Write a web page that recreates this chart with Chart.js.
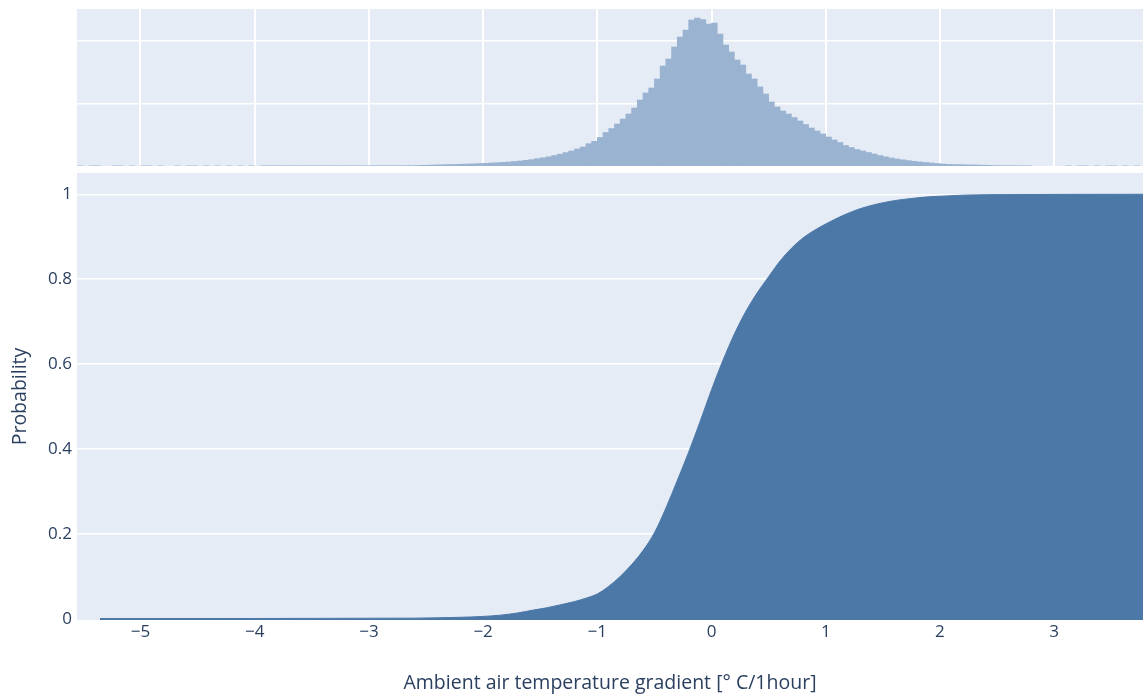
<!DOCTYPE html>
<html>
<head>
<meta charset="utf-8">
<script src="https://cdn.jsdelivr.net/npm/chart.js@4.4.0/dist/chart.umd.min.js"></script>
<style>
  html, body { margin: 0; padding: 0; background: #fff; }
  #wrap { position: relative; width: 1143px; height: 695px; }
  #histCanvas { position: absolute; left: 0; top: 0; }
  #cdfCanvas { position: absolute; left: 0; top: 170px; }
</style>
</head>
<body>
<div id="wrap">
  <canvas id="histCanvas" width="1143" height="170"></canvas>
  <canvas id="cdfCanvas" width="1143" height="525"></canvas>
</div>
<script>
// histogram of the hourly gradient, bins of 0.05 starting at -2.6
var binStart = -2.6;
var binWidth = 0.05;
var binCounts = [
    8, 11, 13, 16, 19, 22, 24, 26, 29, 32,
    35, 40, 43, 48, 53, 58, 64, 72, 80, 91,
    102, 118, 131, 147, 168, 189, 214, 240, 272, 304,
    357, 395, 456, 536, 600, 672, 752, 832, 928, 1056,
    1168, 1248, 1392, 1600, 1712, 1904, 2064, 2176, 2336, 2368,
    2344, 2272, 2288, 2112, 1936, 1824, 1696, 1616, 1472, 1392,
    1264, 1152, 1024, 944, 880, 832, 776, 720, 664, 608,
    560, 512, 464, 416, 376, 328, 296, 264, 240, 216,
    192, 168, 147, 128, 112, 99, 86, 75, 64, 56,
    48, 40, 32, 27, 24, 22, 19, 18, 16, 14,
    11, 6
];

// sparse outliers in both tails (bin centres and counts)
var tailCenters = [
    -5.525, -5.425, -5.375, -5.225, -5.175, -5.075, -4.975, -4.925, -4.825, -4.675,
    -4.575, -4.525, -4.425, -4.325, -4.225, -4.125, -4.025, -3.925, -3.875, -3.825,
    -3.775, -3.725, -3.675, -3.625, -3.575, -3.525, -3.475, -3.425, -3.375, -3.325,
    -3.275, -3.225, -3.175, -3.125, -3.075, -3.025, -2.975, -2.925, -2.875, -2.825,
    -2.775, -2.725, -2.675, -2.625,
    2.525, 2.575, 2.625, 2.675, 2.725, 2.775,
    3.125, 3.225, 3.275, 3.375, 3.475, 3.525, 3.625, 3.725
];
var tailCounts = [
    2, 2, 2, 2, 2, 2, 2, 2, 2, 2,
    2, 2, 2, 2, 2, 2, 3, 3, 3, 3,
    3, 3, 3, 3, 3, 3, 3, 3, 3, 3,
    3, 3, 3, 3, 3, 3, 4, 4, 4, 4,
    4, 5, 5, 5,
    5, 4, 4, 3, 3, 3,
    2, 2, 2, 2, 2, 2, 2, 2
];

// cumulative probability
var cdfX = [
    -5.355, -2.6, -2.2, -2.0, -1.85, -1.7, -1.56, -1.45, -1.33, -1.2,
    -1.1, -1.0, -0.9, -0.8, -0.7, -0.6, -0.5, -0.4, -0.3, -0.2,
    -0.1, 0.0, 0.1, 0.2, 0.3, 0.4, 0.5, 0.6, 0.7, 0.8,
    0.9, 1.0, 1.15, 1.3, 1.45, 1.6, 1.75, 1.9, 2.05, 2.2,
    2.4, 3.778
];
var cdfY = [
    0.001, 0.002, 0.004, 0.006, 0.009, 0.014, 0.021, 0.026, 0.033, 0.041,
    0.049, 0.059, 0.077, 0.100, 0.128, 0.161, 0.203, 0.261, 0.326, 0.393,
    0.465, 0.540, 0.609, 0.671, 0.724, 0.768, 0.806, 0.843, 0.873, 0.897,
    0.915, 0.930, 0.950, 0.966, 0.977, 0.985, 0.990, 0.994, 0.996, 0.998,
    0.999, 1.0
];

var xTicks = [-5, -4, -3, -2, -1, 0, 1, 2, 3];
var countTicks = [1000, 2000];
var probTicks = [0, 0.2, 0.4, 0.6, 0.8, 1];

var xMin = -5.556;
var xMax = 3.778;

var textColor = '#2a3f5f';
var plotBgColor = '#e5ecf6';

Chart.defaults.font.family = '"Open Sans", sans-serif';
Chart.defaults.color = textColor;

// paint the plot area before anything else
var plotBg = {
    id: 'plotBg',
    beforeDraw: function (chart) {
        var a = chart.chartArea;
        var ctx = chart.ctx;
        ctx.save();
        ctx.fillStyle = plotBgColor;
        ctx.fillRect(a.left, a.top, a.right - a.left, a.bottom - a.top);
        ctx.restore();
    }
};

function fixedTicks(values) {
    return function (scale) {
        scale.ticks = values.map(function (v) { return { value: v }; });
    };
}

// keep the plot area exactly where the layout padding puts it
function noLabelPadding(size) {
    return function (scale) {
        scale.paddingTop = 0;
        scale.paddingBottom = 0;
        scale.paddingLeft = 0;
        scale.paddingRight = 0;
        if (size.width !== undefined) scale.width = size.width;
        if (size.height !== undefined) scale.height = size.height;
    };
}

var histPoints = binCounts.map(function (c, i) {
    return { x: binStart + binWidth * (i + 0.5), y: c };
});
tailCenters.forEach(function (c, i) {
    histPoints.push({ x: c, y: tailCounts[i] });
});
histPoints.sort(function (a, b) { return a.x - b.x; });

var cdfPoints = cdfX.map(function (x, i) {
    return { x: x, y: cdfY[i] };
});

new Chart(document.getElementById('histCanvas'), {
    type: 'bar',
    data: {
        datasets: [{
            data: histPoints,
            backgroundColor: '#9ab3d1',
            borderWidth: 0,
            barPercentage: 1,
            categoryPercentage: 1
        }]
    },
    options: {
        responsive: false,
        animation: false,
        layout: { padding: { left: 77, top: 9, right: 0, bottom: 4 } },
        plugins: { legend: { display: false }, tooltip: { enabled: false } },
        scales: {
            x: {
                type: 'linear',
                offset: false,
                min: xMin,
                max: xMax,
                afterBuildTicks: fixedTicks(xTicks),
                afterFit: noLabelPadding({ height: 0 }),
                ticks: { display: false },
                grid: { color: '#ffffff', lineWidth: 2, drawTicks: false, offset: false },
                border: { display: false }
            },
            y: {
                min: 0,
                max: 2512,
                afterBuildTicks: fixedTicks(countTicks),
                afterFit: noLabelPadding({ width: 0 }),
                ticks: { display: false },
                grid: { color: '#ffffff', lineWidth: 1.5, drawTicks: false },
                border: { display: false }
            }
        }
    },
    plugins: [plotBg]
});

new Chart(document.getElementById('cdfCanvas'), {
    type: 'line',
    data: {
        datasets: [{
            data: cdfPoints,
            borderColor: '#4c78a8',
            borderWidth: 1,
            backgroundColor: '#4c78a8',
            fill: 'start',
            pointRadius: 0,
            cubicInterpolationMode: 'monotone'
        }]
    },
    options: {
        responsive: false,
        animation: false,
        layout: { padding: { left: 0, top: 3, right: 0, bottom: 0 } },
        plugins: { legend: { display: false }, tooltip: { enabled: false } },
        scales: {
            x: {
                type: 'linear',
                min: xMin,
                max: xMax,
                afterBuildTicks: fixedTicks(xTicks),
                afterFit: noLabelPadding({ height: 75 }),
                ticks: {
                    font: { size: 17 },
                    padding: 2,
                    maxRotation: 0,
                    autoSkip: false,
                    callback: function (v) { return String(v).replace('-', '\u2212'); }
                },
                grid: { display: false, drawTicks: false },
                border: { display: false },
                title: {
                    display: true,
                    text: 'Ambient air temperature gradient [° C/1hour]',
                    font: { size: 19.5 },
                    padding: { top: 0, bottom: 0 }
                }
            },
            y: {
                min: -0.0024,
                max: 1.0501,
                afterBuildTicks: fixedTicks(probTicks),
                afterFit: noLabelPadding({ width: 77 }),
                ticks: {
                    font: { size: 17 },
                    padding: 5,
                    callback: function (v) { return String(v); }
                },
                grid: {
                    color: function (ctx) {
                        return ctx.tick && ctx.tick.value === 0 ? 'rgba(0,0,0,0)' : '#ffffff';
                    },
                    lineWidth: 1.5,
                    drawTicks: false
                },
                border: { display: false },
                title: {
                    display: true,
                    text: 'Probability',
                    font: { size: 19.5 },
                    padding: { top: 9, bottom: 0 }
                }
            }
        }
    },
    plugins: [plotBg]
});
</script>
</body>
</html>
